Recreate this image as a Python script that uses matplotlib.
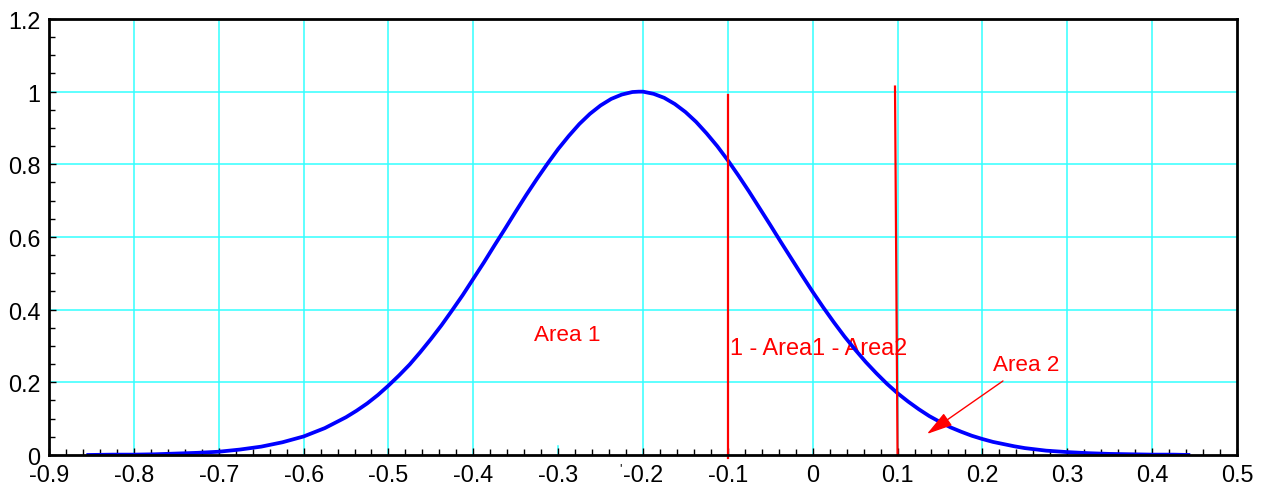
import matplotlib
matplotlib.use("Agg")
from matplotlib import pyplot as plt
from matplotlib.ticker import MultipleLocator, FuncFormatter

# curve (finer steps where it bends most)
x_vals = [-0.856, -0.825, -0.8, -0.775, -0.75, -0.725, -0.7, -0.675, -0.65, -0.625,
          -0.6, -0.575, -0.55, -0.5375, -0.525, -0.5125, -0.5, -0.4875, -0.475, -0.4625,
          -0.45, -0.4375, -0.425, -0.4125, -0.4, -0.3875, -0.375, -0.3625, -0.35, -0.3375,
          -0.325, -0.3125, -0.3, -0.2875, -0.275, -0.2625, -0.25, -0.2375, -0.225, -0.2125,
          -0.205, -0.2, -0.1875, -0.175, -0.1625, -0.15, -0.1375, -0.125, -0.1125, -0.1,
          -0.0875, -0.075, -0.0625, -0.05, -0.0375, -0.025, -0.0125, 0.0, 0.0125, 0.025,
          0.0375, 0.05, 0.0625, 0.075, 0.0875, 0.1, 0.1125, 0.125, 0.1375, 0.15,
          0.1625, 0.175, 0.1875, 0.2, 0.2125, 0.225, 0.2375, 0.25, 0.275, 0.3,
          0.325, 0.35, 0.375, 0.4, 0.425, 0.445]
y_vals = [0.000, 0.001, 0.001, 0.002, 0.004, 0.006, 0.009, 0.015, 0.023, 0.035,
          0.051, 0.074, 0.104, 0.122, 0.142, 0.165, 0.191, 0.219, 0.249, 0.283,
          0.319, 0.357, 0.398, 0.440, 0.485, 0.530, 0.577, 0.623, 0.670, 0.716,
          0.760, 0.802, 0.842, 0.878, 0.911, 0.939, 0.962, 0.980, 0.992, 0.999,
          1.000, 1.000, 0.994, 0.983, 0.966, 0.944, 0.917, 0.885, 0.850, 0.811,
          0.769, 0.725, 0.679, 0.633, 0.586, 0.540, 0.494, 0.449, 0.406, 0.365,
          0.326, 0.290, 0.256, 0.225, 0.196, 0.170, 0.147, 0.126, 0.107, 0.091,
          0.076, 0.064, 0.053, 0.044, 0.036, 0.030, 0.024, 0.019, 0.012, 0.008,
          0.005, 0.003, 0.002, 0.001, 0.001, 0.000]

# the two red cut lines (bottom x, top x, bottom y, top y)
cut_x_bottom = [-0.1, 0.1]
cut_x_top = [-0.1, 0.097]
cut_y_bottom = [-0.008, 0.0]
cut_y_top = [0.99, 1.014]

grid_x = [-0.8, -0.7, -0.6, -0.5, -0.4, -0.2, -0.1, 0.0, 0.1, 0.2, 0.3, 0.4]
grid_y = [0.2, 0.4, 0.6, 0.8, 1.0]

plt.rcParams['font.family'] = ['Liberation Sans', 'DejaVu Sans']
plt.rcParams['axes.unicode_minus'] = False

fig = plt.figure(figsize=(12.64, 4.85), dpi=100)
ax = fig.add_axes([0.0388, 0.0598, 0.9398, 0.899])

for gx in grid_x:
    ax.axvline(gx, color="#33ffff", lw=1.1, zorder=1)
for gy in grid_y:
    ax.axhline(gy, color="#33ffff", lw=1.1, zorder=1)
# odd little stub where the -0.3 grid line should be
ax.plot([-0.3, -0.3], [0, 0.025], color="#33ffff", lw=1.1, zorder=1)

ax.plot(x_vals, y_vals, color="#0000ff", lw=2.7, zorder=4,
        solid_capstyle="butt", solid_joinstyle="round")

for xb, xt, yb, yt in zip(cut_x_bottom, cut_x_top, cut_y_bottom, cut_y_top):
    ax.plot([xb, xt], [yb, yt], color="red", lw=1.6, zorder=5, clip_on=False)

ax.text(-0.3285, 0.331, "Area 1", color="red", fontsize=16.2, va="center", zorder=3)
ax.text(-0.0975, 0.2945, "1 - Area1 - Area2", color="red", fontsize=16.8, va="center", zorder=3)
ax.text(0.2124, 0.249, "Area 2", color="red", fontsize=16.2, va="center", zorder=3)
ax.annotate("", xy=(0.1346, 0.0578), xytext=(0.2242, 0.2037),
            arrowprops=dict(arrowstyle="-|>,head_length=1.6,head_width=0.45",
                            color="red", lw=1.0, mutation_scale=10,
                            shrinkA=0, shrinkB=0), zorder=5)
ax.text(-0.227, -0.035, "'", fontsize=9, ha="center", va="center", clip_on=False)

ax.set_xlim(-0.9, 0.5)
ax.set_ylim(0, 1.2)
ax.xaxis.set_major_locator(MultipleLocator(0.1))
ax.xaxis.set_minor_locator(MultipleLocator(0.02))
ax.yaxis.set_major_locator(MultipleLocator(0.2))
ax.yaxis.set_minor_locator(MultipleLocator(0.05))

def fmt(v, pos):
    s = "%.1f" % v
    if abs(v) < 1e-9:
        return "0"
    if s.endswith(".0"):
        s = s[:-2]
    return s

ax.xaxis.set_major_formatter(FuncFormatter(fmt))
ax.yaxis.set_major_formatter(FuncFormatter(fmt))

ax.tick_params(which="both", direction="in", top=False, right=False,
               width=1.0, colors="black", labelsize=16.8)
ax.tick_params(which="major", length=5)
ax.tick_params(which="minor", length=4.5)
ax.tick_params(axis="x", pad=6)
ax.tick_params(axis="y", pad=6)

for sp in ax.spines.values():
    sp.set_linewidth(2.0)
    sp.set_color("black")
    sp.set_zorder(6)

plt.savefig("out.png", dpi=100)
plt.close()
